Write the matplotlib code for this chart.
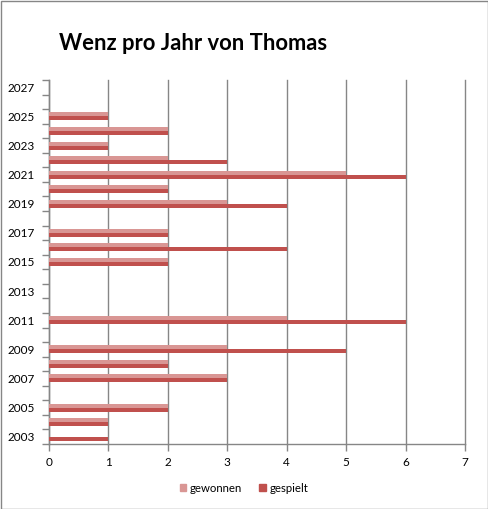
import matplotlib
matplotlib.use("Agg")
import matplotlib.pyplot as plt
from matplotlib.patches import Rectangle
import numpy as np

years = list(range(2003, 2028))
gewonnen = [0, 1, 2, 0, 3, 2, 3, 0, 4, 0, 0, 0, 2, 2, 2, 0, 3, 2, 5, 2, 1, 2, 1, 0, 0]
gespielt = [1, 1, 2, 0, 3, 2, 5, 0, 6, 0, 0, 0, 2, 4, 2, 0, 4, 2, 6, 3, 1, 2, 1, 0, 0]
x_ticks = list(range(0, 8))
title = "Wenz pro Jahr von Thomas"
series_names = ["gewonnen", "gespielt"]

c_gew = "#D99694"
c_gesp = "#C0504D"
grid_c = "#868686"

plt.rcParams['font.family'] = ['Lato', 'DejaVu Sans']

fig = plt.figure(figsize=(4.88, 5.09), dpi=100)
ax = fig.add_axes([49/488, 1-444/509, (465-49)/488, (444-80)/509])

y = np.array(years, dtype=float)
h = 0.275
ax.barh(y + h/2, gewonnen, height=h, color=c_gew, zorder=3)
ax.barh(y - h/2, gespielt, height=h, color=c_gesp, zorder=3)

ax.set_xlim(0, 7)
ax.set_ylim(years[0] - 0.5, years[-1] + 0.5)
ax.set_xticks(x_ticks)
ax.set_xticklabels([str(v) for v in x_ticks], fontsize=8.5)
ax.xaxis.grid(True, color=grid_c, linewidth=1, zorder=0)
for gl in ax.get_xgridlines():
    gl.set_clip_on(False)

ax.set_yticks(np.arange(years[0] - 0.5, years[-1] + 1.0, 1.0))
ax.set_yticklabels([])
ax.set_yticks(years[::2], minor=True)
ax.set_yticklabels([str(v) for v in years[::2]], minor=True, fontsize=8.5)
ax.tick_params(axis='y', which='major', length=5, direction='out', color=grid_c, width=1)
ax.tick_params(axis='y', which='minor', length=0, pad=10)
ax.tick_params(axis='x', which='major', length=5, direction='out', color=grid_c, width=1, pad=4)

for s in ['top', 'right']:
    ax.spines[s].set_visible(False)
for s in ['left', 'bottom']:
    ax.spines[s].set_color(grid_c)
    ax.spines[s].set_linewidth(1)

fig.text(59/488, 1-43/509, title, fontsize=15.8, fontweight='bold', va='center', ha='left')

handles = [Rectangle((0, 0), 1, 1, color=c_gew), Rectangle((0, 0), 1, 1, color=c_gesp)]
fig.legend(handles, series_names, loc='center', bbox_to_anchor=(0.5, 1-488/509), ncol=2,
           frameon=False, fontsize=8.2, handlelength=0.6, handleheight=0.6, handletextpad=0.3,
           columnspacing=1.5)

fig.patches.append(Rectangle((0.5/488, 0.5/509), 1-1/488, 1-1/509, transform=fig.transFigure,
                             fill=False, edgecolor=grid_c, linewidth=1))

fig.savefig("out.png", dpi=100)
